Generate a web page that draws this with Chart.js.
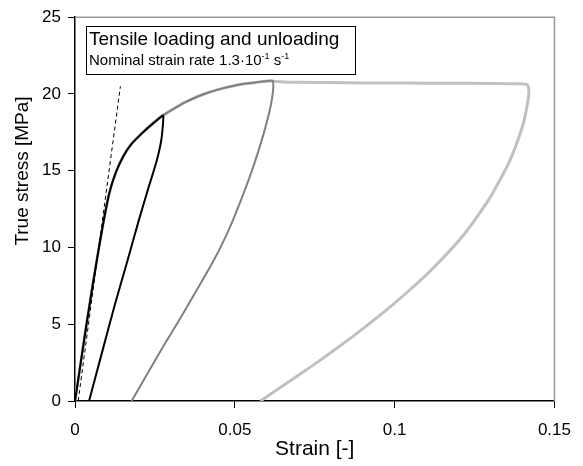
<!DOCTYPE html>
<html>
<head>
<meta charset="utf-8">
<script src="https://cdn.jsdelivr.net/npm/chart.js@4/dist/chart.umd.min.js"></script>
<style>
  html, body { margin: 0; padding: 0; background: #fff; }
  #wrap { width: 583px; height: 466px; }
</style>
</head>
<body>
<div id="wrap"><canvas id="kurve"></canvas></div>
<script>
// Achsen
const xTickValues = [0, 0.05, 0.1, 0.15];
const yTickValues = [0, 5, 10, 15, 20, 25];

// gemeinsame Belastungskurve (bis zur ersten Entlastung)
const loadStrain = [0, 0.0018, 0.0036, 0.0055, 0.0075, 0.0092, 0.0108, 0.0128, 0.015, 0.0175, 0.021, 0.0245, 0.0275];
const loadStress = [0, 2.5, 5, 7.5, 10, 12, 13.6, 14.9, 15.9, 16.7, 17.45, 18.1, 18.6];

// weitere Belastung bis ~0.06
const load2Strain = [0.031, 0.0344, 0.038, 0.0415, 0.0455, 0.0497, 0.0535, 0.0569, 0.0605];
const load2Stress = [19.05, 19.45, 19.8, 20.08, 20.33, 20.54, 20.68, 20.76, 20.85];

// Entlastung 1 (schwarz)
const unload1Strain = [0.0276, 0.027, 0.0255, 0.023, 0.02, 0.0165, 0.0125, 0.0085, 0.0044];
const unload1Stress = [18.3, 17.0, 15.6, 13.9, 11.8, 9.2, 6.3, 3.2, 0];

// Entlastung 2 (dunkelgrau)
const unload2Strain = [0.0618, 0.062, 0.0612, 0.059, 0.056, 0.0525, 0.048, 0.043, 0.038, 0.033, 0.028, 0.023, 0.0177];
const unload2Stress = [20.87, 20.3, 19.2, 17.4, 15.4, 13.4, 11.1, 9.0, 7.2, 5.4, 3.7, 1.9, 0];

// Plateau und Entlastung 3 (hellgrau)
const plateauStrain = [0.065, 0.07, 0.08, 0.09, 0.1, 0.11, 0.12, 0.13, 0.138, 0.1415];
const plateauStress = [20.78, 20.76, 20.74, 20.72, 20.72, 20.7, 20.7, 20.68, 20.66, 20.6];
const unload3Strain = [0.142, 0.1415, 0.14, 0.1359, 0.1297, 0.1215, 0.1113, 0.104, 0.097, 0.09, 0.083, 0.076, 0.07, 0.064, 0.058];
const unload3Stress = [20.2, 19.3, 17.9, 15.6, 13.2, 10.8, 8.5, 7.1, 5.85, 4.7, 3.6, 2.55, 1.7, 0.85, 0];

// Steigung (gestrichelt)
const tangentStrain = [0.001, 0.0142];
const tangentStress = [0, 20.5];

function punkte(xs, ys) {
  return xs.map((x, i) => ({ x: x, y: ys[i] }));
}

const kurveHellgrau = [].concat(
  punkte(loadStrain, loadStress),
  punkte(load2Strain, load2Stress),
  punkte(plateauStrain, plateauStress),
  punkte(unload3Strain, unload3Stress)
);
const kurveDunkelgrau = [].concat(
  punkte(loadStrain, loadStress),
  punkte(load2Strain, load2Stress),
  punkte(unload2Strain, unload2Stress)
);
const kurveSchwarz = [].concat(
  punkte(loadStrain, loadStress),
  punkte(unload1Strain, unload1Stress)
);

const schrift = "'Liberation Sans', Arial, sans-serif";

// Rahmen oben/rechts, y-Titel und Textkasten
const rahmenPlugin = {
  id: "rahmen",
  afterDraw(chart) {
    const ctx = chart.ctx;
    const a = chart.chartArea;
    ctx.save();
    ctx.strokeStyle = "#9a9a9a";
    ctx.lineWidth = 1.5;
    ctx.beginPath();
    ctx.moveTo(a.left, a.top);
    ctx.lineTo(a.right, a.top);
    ctx.lineTo(a.right, a.bottom);
    ctx.stroke();

    // y-Achsentitel
    ctx.save();
    ctx.translate(23, 171);
    ctx.rotate(-Math.PI / 2);
    ctx.fillStyle = "#000";
    ctx.font = "19px " + schrift;
    ctx.textAlign = "center";
    ctx.textBaseline = "middle";
    ctx.fillText("True stress [MPa]", 0, 0);
    ctx.restore();

    // Textkasten
    ctx.fillStyle = "#fff";
    ctx.fillRect(86, 26, 269, 48);
    ctx.strokeStyle = "#000";
    ctx.lineWidth = 1;
    ctx.strokeRect(86.5, 26.5, 269, 48);
    ctx.fillStyle = "#000";
    ctx.textBaseline = "alphabetic";
    ctx.font = "19px " + schrift;
    ctx.fillText("Tensile loading and unloading", 89, 45);
    let x = 89;
    const teile = [["Nominal strain rate 1.3\u00b710", 0, 15], ["-1", -6, 9], [" s", 0, 15], ["-1", -6, 9]];
    teile.forEach(t => {
      ctx.font = t[2] + "px " + schrift;
      ctx.fillText(t[0], x, 65 + t[1]);
      x += ctx.measureText(t[0]).width;
    });
    ctx.restore();
  }
};

const ctx = document.getElementById("kurve").getContext("2d");
window.diagramm = new Chart(ctx, {
  type: "scatter",
  data: {
    datasets: [
      {
        label: "Tangente",
        data: punkte(tangentStrain, tangentStress),
        showLine: true,
        borderColor: "#000",
        borderWidth: 1,
        borderDash: [4, 3],
        pointRadius: 0,
      },
      {
        label: "Belastung 1",
        data: kurveSchwarz,
        showLine: true,
        borderColor: "#000",
        borderWidth: 2,
        pointRadius: 0,
        tension: 0.2,
      },
      {
        label: "Belastung 2",
        data: kurveDunkelgrau,
        showLine: true,
        borderColor: "#808080",
        borderWidth: 2,
        pointRadius: 0,
        tension: 0.2,
      },
      {
        label: "Belastung 3",
        data: kurveHellgrau,
        showLine: true,
        borderColor: "#c0c0c0",
        borderWidth: 3,
        pointRadius: 0,
        tension: 0.2,
      },
    ],
  },
  options: {
    responsive: true,
    maintainAspectRatio: false,
    animation: false,
    layout: {
      padding: { top: 14, right: 21, left: 0, bottom: 0 },
    },
    plugins: {
      legend: { display: false },
      tooltip: { enabled: false },
    },
    scales: {
      x: {
        type: "linear",
        min: 0,
        max: 0.15,
        afterBuildTicks: (s) => { s.ticks = xTickValues.map(v => ({ value: v })); },
        afterFit: (s) => { s.height = 65; },
        ticks: {
          color: "#000",
          padding: 12,
          font: { family: schrift, size: 17 },
          callback: (v) => String(v),
        },
        grid: { drawOnChartArea: false, tickLength: 7, color: "#000" },
        border: { color: "#000", width: 1.5 },
        title: {
          display: true,
          text: "Strain [-]",
          color: "#000",
          padding: { top: 0, bottom: 4 },
          font: { family: schrift, size: 21 },
        },
      },
      y: {
        type: "linear",
        min: 0,
        max: 25,
        afterBuildTicks: (s) => { s.ticks = yTickValues.map(v => ({ value: v })); },
        afterFit: (s) => { s.width = 75; },
        ticks: {
          color: "#000",
          padding: 7,
          font: { family: schrift, size: 17 },
          callback: (v) => String(v),
        },
        grid: { drawOnChartArea: false, tickLength: 7, color: "#000" },
        border: { color: "#000", width: 1.5 },
        title: { display: false },
      },
    },
  },
  plugins: [rahmenPlugin],
});
</script>
</body>
</html>
